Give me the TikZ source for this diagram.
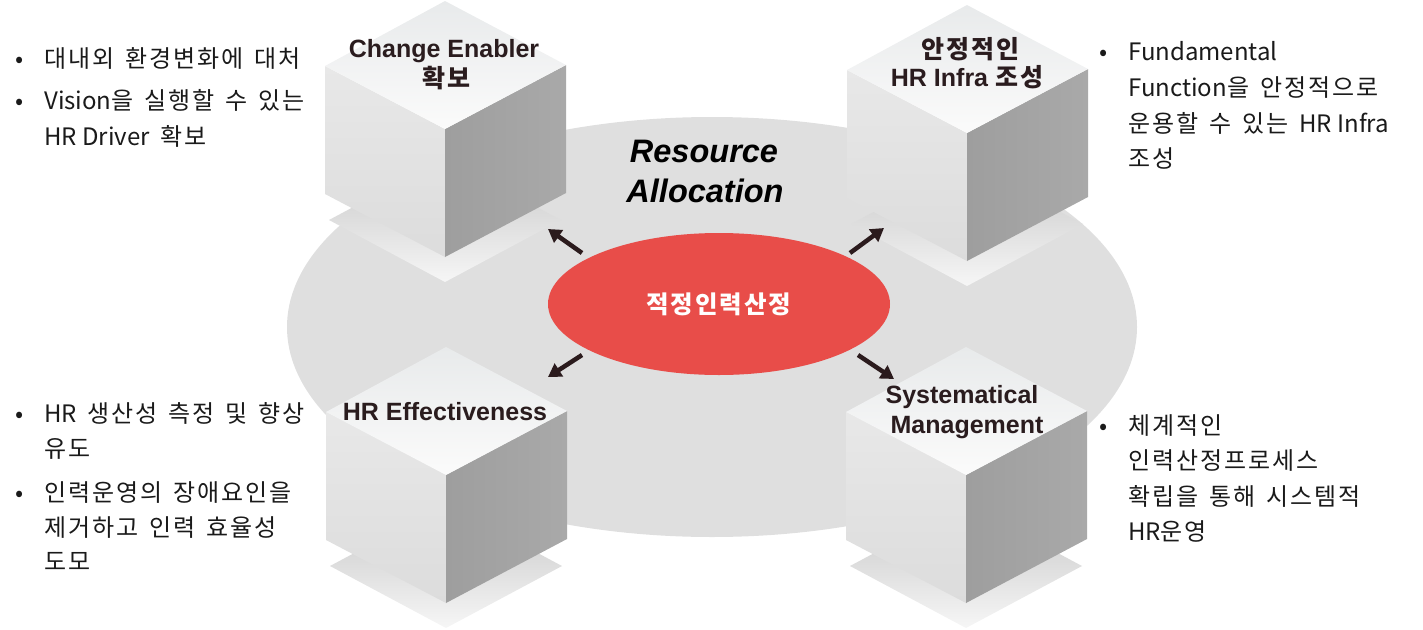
\documentclass[tikz,border=0pt]{standalone}
\usepackage{fontspec}
\setmainfont{Liberation Sans}
\newfontfamily\kr{Noto Sans CJK KR}
\newfontfamily\krh{Noto Sans CJK KR}[LetterSpace=8,WordSpace=1.5]
\usetikzlibrary{arrows.meta,shapes.geometric}
\definecolor{bigell}{HTML}{DFDFDF}
\definecolor{redell}{HTML}{E84D49}
\definecolor{arr}{HTML}{2B1B1D}
\definecolor{lbl}{HTML}{2A1C1E}
\definecolor{txt}{HTML}{1A1A1A}
\definecolor{plA}{HTML}{C6C6C6}
\definecolor{plB}{HTML}{F6F6F6}
\definecolor{lfA}{HTML}{E8E8E8}
\definecolor{lfB}{HTML}{DCDCDC}
\definecolor{rfA}{HTML}{9E9E9E}
\definecolor{rfB}{HTML}{A9A9A9}
\definecolor{tpA}{HTML}{E8EAEB}
\definecolor{tpB}{HTML}{FBFBFB}
\tikzset{
  cubelbl/.style={font=\bfseries\fontsize{25}{25}\selectfont, text=lbl, inner sep=0pt, anchor=base},
  bigtitle/.style={font=\bfseries\itshape\fontsize{32.5}{32.5}\selectfont, text=black, inner sep=0pt, anchor=base},
  bultext/.style={font=\krh\fontsize{24}{24}\selectfont, text=txt, inner sep=0pt, anchor=base west},
  buldot/.style={font=\kr\fontsize{24}{24}\selectfont, text=txt, inner sep=0pt, anchor=base},
  arrowline/.style={draw=arr, line width=4.5pt, -{Triangle[length=13pt,width=15pt]}},
}
\newcommand\isocube[2]{%
\begin{scope}[shift={(#1,#2)}]
\shade[top color=plA, bottom color=plB] (-116,219) -- (0,281) -- (116,219) -- (0,157) -- cycle;
\shade[top color=lfA, bottom color=lfB] (-120,65) -- (0,128) -- (0,256) -- (-120,193) -- cycle;
\shade[left color=rfA, right color=rfB] (0,128) -- (121,64) -- (121,192) -- (0,256) -- cycle;
\shade[top color=tpA, bottom color=tpB] (0,0) -- (-120,65) -- (0,128) -- (121,64) -- cycle;
\end{scope}}
\begin{document}
\begin{tikzpicture}[x=1pt,y=-1pt]
\useasboundingbox (0,0) rectangle (1423,629);
\node[ellipse, fill=bigell, minimum width=850pt, minimum height=420pt, inner sep=0pt] (big) at (712,327) {};
\isocube{445}{1}
\isocube{967}{5}
\isocube{446}{347}
\isocube{966}{347}
\node[ellipse, fill=redell, minimum width=342pt, minimum height=142pt, inner sep=0pt, text=white, font=\krh\bfseries\fontsize{24.5}{24.5}\selectfont] (core) at (719,304) {적정인력산정};
% arrows
\coordinate (a1s) at (582,253); \coordinate (a1e) at (548,229);
\coordinate (a2s) at (850,253); \coordinate (a2e) at (884,228);
\coordinate (a3s) at (582,355); \coordinate (a3e) at (548,377);
\coordinate (a4s) at (858,355); \coordinate (a4e) at (894,379);
\draw[arrowline] (a1s) -- (a1e);
\draw[arrowline] (a2s) -- (a2e);
\draw[arrowline] (a3s) -- (a3e);
\draw[arrowline] (a4s) -- (a4e);
% title
\node[bigtitle] (ra1) at (704,162) {Resource};
\node[bigtitle] (ra2) at (705,202) {Allocation};
% cube labels
\node[cubelbl] (c1a) at (444,57) {Change Enabler};
\node[cubelbl] (c1b) at (446,87) {\krh 확보};
\node[cubelbl] (c2a) at (970,58) {\krh 안정적인};
\node[cubelbl] (c2b) at (967,86) {HR Infra {\krh 조성}};
\node[cubelbl] (c3a) at (445,420) {HR Effectiveness};
\node[cubelbl] (c4a) at (962,403) {Systematical};
\node[cubelbl] (c4b) at (967,433) {Management};
% left top
\node[buldot] (d1) at (20,67) {•};
\node[bultext] (t1a) at (44,67) {대내외 환경변화에 대처};
\node[buldot] (d2) at (20,109) {•};
\node[bultext] (t1b) at (44,109) {{\kr Vision}을 실행할 수 있는};
\node[bultext] (t1c) at (44,145) {{\kr HR Driver} 확보};
% right top
\node[buldot] (d3) at (1104,60) {•};
\node[bultext] (t2a) at (1128,60) {{\kr Fundamental}};
\node[bultext] (t2b) at (1128,96) {{\kr Function}을 안정적으로};
\node[bultext] (t2c) at (1128,132) {운용할 수 있는 {\kr HR Infra}};
\node[bultext] (t2d) at (1128,167) {조성};
% left bottom
\node[buldot] (d4) at (20,422) {•};
\node[bultext] (t3a) at (44,422) {{\kr HR} 생산성 측정 및 향상};
\node[bultext] (t3b) at (44,457) {유도};
\node[buldot] (d5) at (20,501) {•};
\node[bultext] (t3c) at (44,501) {인력운영의 장애요인을};
\node[bultext] (t3d) at (44,536) {제거하고 인력 효율성};
\node[bultext] (t3e) at (44,570) {도모};
% right bottom
\node[buldot] (d6) at (1104,434) {•};
\node[bultext] (t4a) at (1128,434) {체계적인};
\node[bultext] (t4b) at (1128,469) {인력산정프로세스};
\node[bultext] (t4c) at (1128,505) {확립을 통해 시스템적};
\node[bultext] (t4d) at (1128,540) {{\kr HR}운영};
\end{tikzpicture}
\end{document}
